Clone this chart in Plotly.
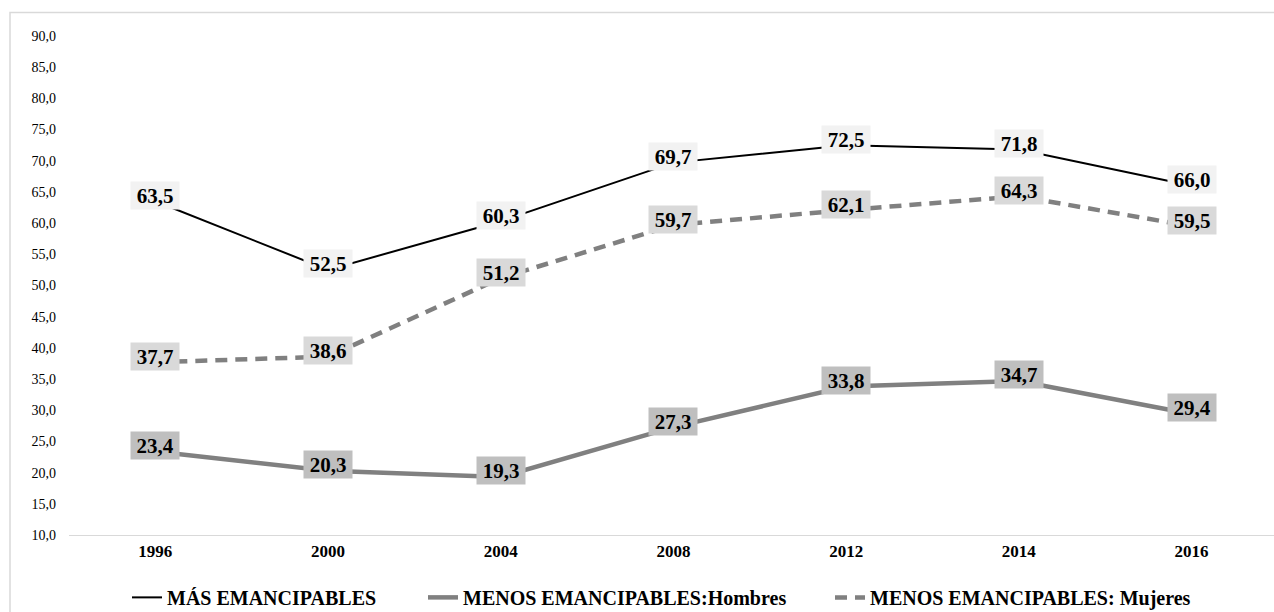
import plotly.graph_objects as go

# Survey years (categories on the x axis)
years = ["1996", "2000", "2004", "2008", "2012", "2014", "2016"]

# Series values (%)
mas_emancipables = [63.5, 52.5, 60.3, 69.7, 72.5, 71.8, 66.0]
menos_hombres = [23.4, 20.3, 19.3, 27.3, 33.8, 34.7, 29.4]
menos_mujeres = [37.7, 38.6, 51.2, 59.7, 62.1, 64.3, 59.5]

series_names = [
    "MÁS EMANCIPABLES",
    "MENOS EMANCIPABLES:Hombres",
    "MENOS EMANCIPABLES: Mujeres",
]

# Pixel geometry of the canvas
W, H = 1274, 612
PL, PR, PT, PB = 69, 1274, 35.5, 535.5  # plot-area edges in pixels
PW, PH = PR - PL, PB - PT


def px_x(px):
    return (px - PL) / PW


def px_y(py):
    return (PB - py) / PH


SERIF = "Liberation Serif"
GREY = "#808080"

fig = go.Figure()

styles = [
    dict(color="black", width=2, dash="solid"),
    dict(color=GREY, width=4.5, dash="solid"),
    dict(color=GREY, width=4.5, dash="12px,8px"),
]
values = [mas_emancipables, menos_hombres, menos_mujeres]
label_bg = ["#f2f2f2", "#bfbfbf", "#d9d9d9"]
legend_ids = ["legend", "legend2", "legend3"]

for name, vals, st, lg in zip(series_names, values, styles, legend_ids):
    fig.add_trace(
        go.Scatter(
            x=years,
            y=vals,
            mode="lines",
            name=name,
            line=st,
            legend=lg,
            hoverinfo="skip",
        )
    )

# Value labels with filled boxes
for vals, bg in zip(values, label_bg):
    for i, v in enumerate(vals):
        fig.add_annotation(
            x=i,
            y=v,
            xref="x",
            yref="y",
            text="<b>" + f"{v:.1f}".replace(".", ",") + "</b>",
            showarrow=False,
            font=dict(family=SERIF, size=21, color="black"),
            bgcolor=bg,
            width=48,
            height=27,
            borderpad=0,
            yshift=6,
        )

# Legend placement (one legend per series)
legend_common = dict(
    orientation="h",
    yanchor="middle",
    y=px_y(598),
    xanchor="left",
    bgcolor="rgba(0,0,0,0)",
    font=dict(family=SERIF, size=20, color="black", weight="bold"),
    itemclick=False,
    itemdoubleclick=False,
)
legend_text_start = [167, 463, 870]

fig.update_layout(
    width=W,
    height=H,
    margin=dict(l=PL, r=W - PR, t=PT, b=H - PB, autoexpand=False),
    paper_bgcolor="white",
    plot_bgcolor="white",
    separators=",.",
    showlegend=True,
    legend=dict(legend_common, x=px_x(legend_text_start[0] - 40)),
    legend2=dict(legend_common, x=px_x(legend_text_start[1] - 40)),
    legend3=dict(legend_common, x=px_x(legend_text_start[2] - 40)),
    xaxis=dict(
        type="category",
        range=[-0.5, -0.5 + PW / 172.7],
        showgrid=False,
        zeroline=False,
        showline=True,
        linecolor="#d9d9d9",
        linewidth=1,
        ticks="",
        tickfont=dict(family=SERIF, size=17, color="black", weight="bold"),
        ticklabelstandoff=1,
        fixedrange=True,
    ),
    yaxis=dict(
        range=[10, 90],
        tickvals=list(range(10, 95, 5)),
        tickformat=".1f",
        showgrid=False,
        zeroline=False,
        showline=False,
        ticks="",
        tickfont=dict(family=SERIF, size=14, color="black"),
        ticklabelstandoff=12,
        fixedrange=True,
    ),
    shapes=[
        dict(
            type="rect",
            xref="paper",
            yref="paper",
            x0=px_x(10),
            x1=px_x(1290),
            y0=px_y(630),
            y1=px_y(12),
            line=dict(color="#d9d9d9", width=1.5),
            fillcolor="rgba(0,0,0,0)",
            layer="below",
        )
    ],
)

fig.write_html("out.html", config={"displayModeBar": False})
